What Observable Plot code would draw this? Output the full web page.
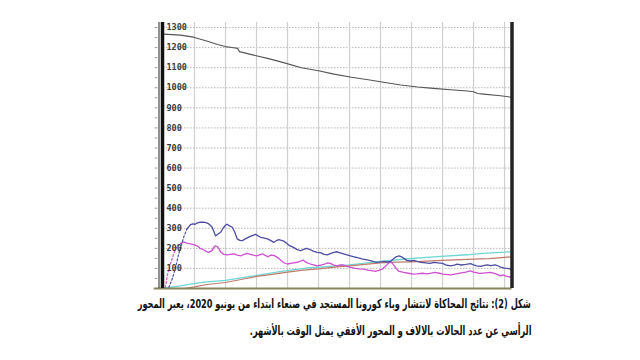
<!DOCTYPE html>
<html>
<head>
<meta charset="utf-8">
<script src="https://cdn.jsdelivr.net/npm/d3@7"></script>
<script src="https://cdn.jsdelivr.net/npm/@observablehq/plot@0.6"></script>
<style>
  html, body { margin: 0; padding: 0; background: #fff; width: 640px; height: 360px; overflow: hidden; }
  #chart { position: absolute; left: 0; top: 0; }
  .cap { position: absolute; right: 109px; direction: rtl; font-family: "DejaVu Sans", sans-serif; font-weight: bold; font-size: 12.5px; color: #111; white-space: nowrap; transform-origin: right center; }
  #cap1 { top: 296px; }
  #cap2 { top: 323px; }
</style>
</head>
<body>
<div id="chart"></div>
<div class="cap" id="cap1">شكل (2): نتائج المحاكاة لانتشار وباء كورونا المستجد في صنعاء ابتداء من يونيو 2020، يعبر المحور</div>
<div class="cap" id="cap2">الرأسي عن عدد الحالات بالالاف و المحور الأفقي يمثل الوقت بالأشهر.</div>
<script>
// time in months, values in thousands of cases
const yTicks = [100, 200, 300, 400, 500, 600, 700, 800, 900, 1000, 1100, 1200, 1300];
const xGrid = [1, 2, 3, 4, 5, 6, 7, 8, 9, 10, 11];

const grayT = [0, 0.55, 0.97, 1.42, 1.74, 2.0, 2.26, 2.39, 2.45, 2.84, 3.39, 3.9, 4.45, 5.0, 5.5, 6.06, 6.6, 7.1, 7.65, 8.2, 8.7, 9.26, 9.8, 10.0, 10.13, 10.32, 10.87, 11.22];
const grayV = [1267, 1262, 1252, 1232, 1215, 1205, 1199, 1196, 1180, 1165, 1145, 1124, 1100, 1085, 1068, 1052, 1040, 1027, 1014, 1004, 997, 990, 984, 980, 971, 968, 960, 953];

const blueT = [0.17, 0.28, 0.39, 0.49, 0.57, 0.65, 0.75, 0.87, 0.95, 1.02, 1.09, 1.18, 1.29, 1.37, 1.45, 1.51, 1.57, 1.62, 1.68, 1.75, 1.84, 1.92, 2.0, 2.05, 2.12, 2.22, 2.3, 2.38, 2.46, 2.54, 2.62, 2.7, 2.78, 2.86, 2.97, 3.05, 3.13, 3.22, 3.35, 3.45, 3.56, 3.64, 3.72, 3.8, 3.88, 3.95, 4.05, 4.19, 4.3, 4.42, 4.52, 4.62, 4.74, 4.85, 4.96, 5.08, 5.18, 5.28, 5.4, 5.5, 5.6, 5.7, 5.81, 5.92, 6.03, 6.15, 6.29, 6.4, 6.57, 6.7, 6.8, 6.89, 7.0, 7.11, 7.22, 7.32, 7.42, 7.5, 7.6, 7.68, 7.75, 7.85, 7.97, 8.08, 8.18, 8.3, 8.45, 8.6, 8.72, 8.85, 9.0, 9.1, 9.26, 9.38, 9.47, 9.6, 9.75, 9.9, 10.0, 10.1, 10.23, 10.35, 10.45, 10.55, 10.7, 10.8, 10.87, 11.0, 11.1, 11.22];
const blueV = [5, 47, 105, 172, 213, 255, 295, 318, 322, 320, 327, 330, 331, 328, 323, 315, 305, 285, 262, 270, 280, 300, 315, 320, 313, 305, 280, 247, 240, 238, 246, 252, 258, 263, 270, 262, 255, 252, 247, 240, 230, 238, 243, 240, 236, 228, 215, 205, 195, 188, 195, 200, 193, 185, 180, 177, 170, 168, 175, 180, 183, 178, 172, 168, 163, 158, 152, 148, 143, 138, 133, 130, 133, 135, 132, 135, 148, 158, 162, 158, 150, 140, 137, 140, 135, 130, 128, 125, 130, 128, 125, 118, 113, 116, 121, 117, 120, 124, 118, 113, 110, 115, 118, 114, 118, 112, 106, 102, 100, 96];

const pinkT = [0.06, 0.12, 0.22, 0.33, 0.44, 0.55, 0.65, 0.75, 0.87, 0.97, 1.09, 1.18, 1.29, 1.38, 1.45, 1.52, 1.57, 1.62, 1.68, 1.75, 1.8, 1.84, 1.95, 2.05, 2.15, 2.27, 2.38, 2.5, 2.6, 2.7, 2.8, 2.9, 3.0, 3.1, 3.2, 3.28, 3.37, 3.45, 3.55, 3.62, 3.72, 3.8, 3.9, 3.99, 4.1, 4.2, 4.35, 4.5, 4.6, 4.74, 4.85, 4.96, 5.1, 5.2, 5.3, 5.4, 5.5, 5.6, 5.7, 5.81, 5.92, 6.03, 6.2, 6.3, 6.45, 6.6, 6.75, 6.85, 6.95, 7.06, 7.15, 7.25, 7.32, 7.4, 7.5, 7.6, 7.75, 7.9, 8.05, 8.18, 8.35, 8.5, 8.6, 8.75, 8.9, 9.0, 9.26, 9.4, 9.6, 9.75, 9.9, 10.0, 10.2, 10.4, 10.55, 10.7, 10.87, 10.95, 11.05, 11.22];
const pinkV = [5, 63, 122, 172, 213, 225, 232, 226, 222, 218, 212, 200, 193, 185, 180, 185, 190, 205, 213, 207, 196, 182, 170, 167, 170, 172, 166, 163, 170, 175, 170, 166, 163, 168, 172, 165, 158, 166, 165, 160, 150, 138, 127, 122, 125, 128, 132, 142, 130, 122, 118, 113, 118, 122, 128, 124, 116, 113, 118, 117, 110, 105, 100, 98, 97, 92, 88, 86, 90, 97, 110, 125, 135, 122, 100, 85, 80, 76, 72, 73, 76, 73, 75, 80, 76, 72, 68, 72, 78, 82, 88, 82, 75, 78, 80, 74, 63, 68, 62, 56];

const cyanT = [0, 0.17, 0.5, 0.87, 1.3, 2.0, 2.8, 3.8, 4.6, 5.6, 6.0, 7.0, 7.8, 8.7, 9.8, 10.3, 11.22];
const cyanV = [2, 5, 12, 22, 32, 40, 60, 85, 102, 113, 118, 135, 147, 158, 168, 175, 183];

const brownT = [0.65, 1.0, 1.4, 2.0, 2.5, 3.0, 3.5, 4.0, 4.5, 5.0, 5.6, 6.0, 7.0, 7.5, 8.0, 9.0, 10.0, 10.5, 11.0, 11.22];
const brownV = [0, 8, 20, 30, 45, 60, 70, 82, 92, 98, 108, 113, 128, 131, 133, 140, 146, 149, 155, 158];

const minorTicks = d3.range(50, 1350, 50);

const toRows = (T, V) => T.map((t, i) => ({t, v: V[i]}));
const gray = toRows(grayT, grayV);
const blue = toRows(blueT, blueV);
const pink = toRows(pinkT, pinkV);
const cyan = toRows(cyanT, cyanV);
const brown = toRows(brownT, brownV);

const chart = Plot.plot({
  width: 640,
  height: 290,
  marginLeft: 163,
  marginRight: 128.5,
  marginTop: 22,
  marginBottom: 2,
  x: {domain: [0, 11.24], axis: null},
  y: {domain: [0, 1325], axis: null},
  style: {background: "transparent"},
  marks: [
    Plot.ruleY(yTicks, {stroke: "#b8b8b8", strokeDasharray: "1.5,1.5", strokeWidth: 1}),
    Plot.ruleX(xGrid, {stroke: "#cfcfcf", strokeWidth: 1.2}),
    Plot.ruleY(minorTicks, {x1: -0.27, x2: -0.18, stroke: "#9a9a9a", strokeWidth: 1}),
    Plot.line(cyan, {x: "t", y: "v", stroke: "#6fd6d6", strokeWidth: 1.3}),
    Plot.line(brown, {x: "t", y: "v", stroke: "#c07a6a", strokeWidth: 1.2}),
    Plot.line(pink.filter(d => d.t <= 0.55), {x: "t", y: "v", stroke: "#d255d2", strokeWidth: 1.2, strokeDasharray: "2,2"}),
    Plot.line(pink.filter(d => d.t >= 0.55), {x: "t", y: "v", stroke: "#d04fd0", strokeWidth: 1.3}),
    Plot.line(blue.filter(d => d.t <= 0.75), {x: "t", y: "v", stroke: "#5050a8", strokeWidth: 1.2, strokeDasharray: "2,2"}),
    Plot.line(blue.filter(d => d.t >= 0.75), {x: "t", y: "v", stroke: "#4c4ca4", strokeWidth: 1.3}),
    Plot.line(gray, {x: "t", y: "v", stroke: "#555", strokeWidth: 1.1}),
    Plot.text(yTicks, {x: 0, y: d => d, text: d => String(d), dx: 3, textAnchor: "start", fill: "#3a3a3a", fontWeight: "bold", fontSize: 8.5, fontFamily: "DejaVu Sans Mono, monospace", letterSpacing: 0.5}),
    Plot.ruleY([0], {x1: -0.3, x2: 11.24, stroke: "#86865a", strokeWidth: 2}),
    Plot.ruleX([0], {y1: 0, y2: 1325, stroke: "#111", strokeWidth: 3.5, dx: -1}),
    Plot.ruleX([0], {y1: 0, y2: 1325, stroke: "#222", strokeWidth: 1, dx: -4.5}),
    Plot.ruleX([11.24], {y1: 0, y2: 1325, stroke: "#222", strokeWidth: 3.5})
  ]
});
document.getElementById("chart").appendChild(chart);

// caption: squeeze both lines equally so that line 1 spans about 393px, as in the reference
const c1 = document.getElementById("cap1");
const c2 = document.getElementById("cap2");
const s = 393 / c1.getBoundingClientRect().width;
c1.style.transform = `scaleX(${s})`;
c2.style.transform = `scaleX(${s})`;
</script>
</body>
</html>
